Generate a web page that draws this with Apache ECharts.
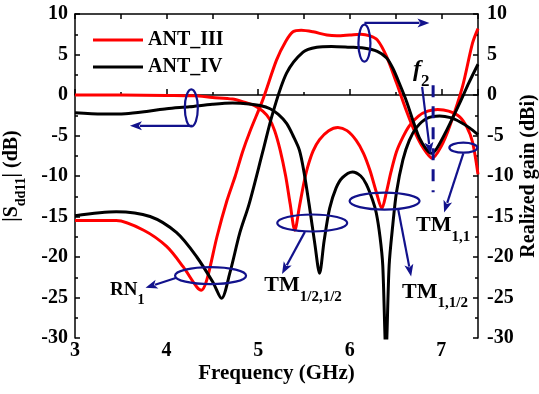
<!DOCTYPE html>
<html>
<head>
<meta charset="utf-8">
<script src="https://cdn.jsdelivr.net/npm/echarts@6/dist/echarts.min.js"></script>
<style>
  html, body { margin: 0; padding: 0; background: #ffffff; }
  #main { width: 539px; height: 394px; }
</style>
</head>
<body>
<div id="main"></div>
<script>
// Frequency axis ticks (GHz) and level axis ticks (dB / dBi)
const freqTicks = [3, 4, 5, 6, 7];
const levelTicks = [-30, -25, -20, -15, -10, -5, 0, 5, 10];

// |Sdd11| of ANT_III (dB)
const s11IIIFreq = [3.0, 3.5, 4.0, 4.3, 4.5, 4.72, 4.85, 4.96, 5.05, 5.12, 5.18, 5.24, 5.3, 5.35, 5.40, 5.45, 5.5, 5.54, 5.6, 5.67, 5.77, 5.87, 5.97, 6.07, 6.15, 6.22, 6.29, 6.35, 6.4, 6.45, 6.51, 6.58, 6.65, 6.75, 6.85, 6.96, 7.08, 7.2, 7.28, 7.34, 7.4];
const s11III = [0, 0, -0.05, -0.1, -0.3, -0.5, -0.9, -1.3, -2.0, -2.9, -4.4, -6.8, -10, -13.5, -16.7, -13.8, -10.8, -8.9, -6.9, -5.5, -4.4, -4.0, -4.4, -5.6, -7.2, -9.3, -12, -14, -12, -9.5, -7, -5.2, -3.8, -2.6, -2.0, -1.8, -2.0, -2.7, -4.0, -5.8, -9.8];

// |Sdd11| of ANT_IV (dB)
const s11IVFreq = [3.0, 3.3, 3.55, 3.8, 4.0, 4.25, 4.5, 4.72, 4.9, 5.02, 5.13, 5.22, 5.31, 5.38, 5.45, 5.5, 5.56, 5.62, 5.67, 5.72, 5.78, 5.85, 5.92, 6.03, 6.12, 6.18, 6.25, 6.29, 6.33, 6.36, 6.395, 6.43, 6.47, 6.51, 6.58, 6.65, 6.73, 6.84, 6.98, 7.1, 7.2, 7.3, 7.4];
const s11IV = [-2.2, -2.35, -2.3, -2.0, -1.7, -1.45, -1.15, -1.0, -1.1, -1.3, -1.7, -2.4, -3.5, -5.0, -6.8, -9.5, -13.8, -18.5, -22, -18, -14, -11.5, -10.2, -9.5, -10, -11, -13, -14.6, -17.5, -21, -32, -21, -16, -12, -8, -5.6, -4, -2.9, -2.6, -2.8, -3.3, -4, -4.9];

// Realized gain of ANT_III (dBi)
const gainIIIFreq = [3.0, 3.45, 3.75, 4.0, 4.18, 4.33, 4.38, 4.44, 4.55, 4.66, 4.75, 4.83, 4.91, 5.05, 5.2, 5.3, 5.38, 5.47, 5.6, 5.75, 5.86, 6.0, 6.12, 6.22, 6.3, 6.4, 6.51, 6.62, 6.72, 6.8, 6.9, 7.0, 7.09, 7.23, 7.34, 7.4];
const gainIII = [-15.5, -15.5, -16.7, -18.7, -21.2, -23.7, -24.1, -22.8, -17.5, -13, -10, -7, -4.5, -0.6, 4.3, 6.6, 7.8, 8.0, 7.8, 7.4, 7.3, 7.4, 7.5, 7.3, 6.8, 4.8, 1.5, -2, -4.8, -6.5, -7.8, -6.3, -3.9, 1.0, 6.4, 8.2];

// Realized gain of ANT_IV (dBi)
const gainIVFreq = [3.0, 3.45, 3.82, 4.11, 4.33, 4.51, 4.6, 4.69, 4.8, 4.9, 5.05, 5.16, 5.31, 5.49, 5.64, 5.8, 6.0, 6.15, 6.3, 6.4, 6.47, 6.55, 6.62, 6.7, 6.76, 6.83, 6.89, 6.95, 7.06, 7.2, 7.3, 7.4];
const gainIV = [-14.9, -14.4, -15, -17, -20, -23.2, -25.1, -22, -17, -13.5, -7, -2.2, 2.7, 5.3, 5.9, 6.0, 5.9, 5.8, 5.4, 4.6, 3.3, 1.2, -0.8, -3.5, -5.3, -6.6, -7.2, -6.6, -4.3, -1, 1.5, 3.8];

const FONT = '"Liberation Serif", "Times New Roman", serif';
const NAVY = '#12128c';
const RED = '#ff0000';
const BLACK = '#000000';

const zip = (xs, ys) => xs.map((x, i) => [x, ys[i]]);

const chart = echarts.init(document.getElementById('main'), null, { renderer: 'canvas' });

const tickLabel = { fontFamily: FONT, fontWeight: 'bold', fontSize: 20, color: '#000' };
const axisLineStyle = { lineStyle: { color: '#000', width: 1.5 } };

function lineSeries(name, xs, ys, color, yIdx, z) {
  return {
    name: name,
    type: 'line',
    xAxisIndex: 0,
    yAxisIndex: yIdx,
    data: zip(xs, ys),
    showSymbol: false,
    symbol: 'none',
    smooth: 0.3,
    clip: true,
    z: z,
    lineStyle: { color: color, width: 3 },
    itemStyle: { color: color }
  };
}

chart.setOption({
  animation: false,
  grid: { left: 75, right: 61, top: 14, bottom: 56, containLabel: false, outerBoundsMode: 'none' },
  legend: {
    orient: 'vertical',
    left: 88,
    top: 25,
    itemWidth: 50,
    itemHeight: 3,
    itemGap: 7,
    icon: 'rect',
    data: ['ANT_III', 'ANT_IV'],
    textStyle: { fontFamily: FONT, fontWeight: 'bold', fontSize: 20, color: '#000', padding: [0, 0, 0, 0] }
  },
  xAxis: [
    {
      type: 'value', position: 'bottom', min: 3, max: 7.4, interval: 1,
      name: 'Frequency (GHz)', nameLocation: 'middle', nameGap: 25, nameMoveOverlap: false,
      nameTextStyle: { fontFamily: FONT, fontWeight: 'bold', fontSize: 21, color: '#000' },
      axisLine: axisLineStyle,
      axisTick: { inside: true, length: 6, lineStyle: { color: '#000', width: 1.5 } },
      axisLabel: Object.assign({ margin: 3, formatter: v => freqTicks.includes(v) ? String(v) : '' }, tickLabel),
      splitLine: { show: false }
    },
    {
      type: 'value', position: 'bottom', min: 3, max: 7.4, interval: 0.5,
      axisLine: { show: false },
      axisTick: { inside: true, length: 3, lineStyle: { color: '#000', width: 1.5 } },
      axisLabel: { show: false },
      splitLine: { show: false }
    },
    {
      type: 'value', position: 'top', min: 3, max: 7.4, interval: 0.5,
      axisLine: axisLineStyle,
      axisTick: { inside: true, length: 5, lineStyle: { color: '#000', width: 1.5 } },
      axisLabel: { show: false },
      splitLine: { show: false }
    }
  ],
  yAxis: [
    {
      type: 'value', position: 'left', min: -30, max: 10, interval: 5,
      name: '{n||S}{s|dd11}{n|| (dB)}', nameLocation: 'middle', nameGap: 47, nameRotate: 90, nameMoveOverlap: false,
      nameTextStyle: {
        rich: {
          n: { fontFamily: FONT, fontWeight: 'bold', fontSize: 20, color: '#000', lineHeight: 26, verticalAlign: 'top' },
          s: { fontFamily: FONT, fontWeight: 'bold', fontSize: 14, color: '#000', lineHeight: 14, verticalAlign: 'bottom' }
        }
      },
      axisLine: axisLineStyle,
      axisTick: { inside: true, length: 5, lineStyle: { color: '#000', width: 1.5 } },
      minorTick: { show: true, splitNumber: 2, length: 3, lineStyle: { color: '#000', width: 1.5 } },
      axisLabel: Object.assign({ margin: 7, formatter: v => levelTicks.includes(v) ? String(v) : '' }, tickLabel),
      splitLine: { show: false },
      minorSplitLine: { show: false }
    },
    {
      type: 'value', position: 'right', min: -30, max: 10, interval: 5,
      name: 'Realized gain (dBi)', nameLocation: 'middle', nameGap: 41, nameRotate: 90, nameMoveOverlap: false,
      nameTextStyle: { fontFamily: FONT, fontWeight: 'bold', fontSize: 20, color: '#000' },
      axisLine: axisLineStyle,
      axisTick: { inside: true, length: 5, lineStyle: { color: '#000', width: 1.5 } },
      minorTick: { show: true, splitNumber: 2, length: 3, lineStyle: { color: '#000', width: 1.5 } },
      axisLabel: Object.assign({ margin: 9, formatter: v => levelTicks.includes(v) ? String(v) : '' }, tickLabel),
      splitLine: { show: false },
      minorSplitLine: { show: false }
    }
  ],
  series: [
    lineSeries('ANT_III', s11IIIFreq, s11III, RED, 0, 2),
    lineSeries('ANT_IV', s11IVFreq, s11IV, BLACK, 0, 3),
    lineSeries('ANT_III', gainIIIFreq, gainIII, RED, 1, 2),
    lineSeries('ANT_IV', gainIVFreq, gainIV, BLACK, 1, 3)
  ]
});

// ---- Annotations, anchored in (GHz, dB) coordinates ----
const px = (f, v) => chart.convertToPixel({ xAxisIndex: 0, yAxisIndex: 0 }, [f, v]);

function arrow(from, to) {
  const p0 = px(from[0], from[1]);
  const p1 = px(to[0], to[1]);
  const dx = p1[0] - p0[0], dy = p1[1] - p0[1];
  const len = Math.hypot(dx, dy);
  const ux = dx / len, uy = dy / len;
  const hl = 12, hw = 4.5;
  const bx = p1[0] - ux * hl, by = p1[1] - uy * hl;
  return [
    { type: 'polyline', silent: true, z: 10, shape: { points: [p0, [bx + ux * 2, by + uy * 2]] }, style: { stroke: NAVY, lineWidth: 2.2, fill: 'none' } },
    { type: 'polygon', silent: true, z: 10, shape: { points: [p1, [bx - uy * hw, by + ux * hw], [bx + ux * 3, by + uy * 3], [bx + uy * hw, by - ux * hw]] }, style: { fill: NAVY } }
  ];
}

function ring(f, v, rx, ry) {
  const c = px(f, v);
  return { type: 'ellipse', silent: true, z: 10, shape: { cx: c[0], cy: c[1], rx: rx, ry: ry }, style: { fill: 'none', stroke: NAVY, lineWidth: 2.2 } };
}

function label(f, v, main, sub, mainSize, subSize, italic) {
  const c = px(f, v);
  return {
    type: 'text', silent: true, z: 11, x: c[0], y: c[1],
    style: {
      text: '{m|' + main + '}{s|' + sub + '}',
      align: 'center', verticalAlign: 'middle',
      rich: {
        m: { fontFamily: FONT, fontWeight: 'bold', fontStyle: italic ? 'italic' : 'normal', fontSize: mainSize, fill: '#000', lineHeight: mainSize + 8, verticalAlign: 'top' },
        s: { fontFamily: FONT, fontWeight: 'bold', fontSize: subSize, fill: '#000', lineHeight: subSize, verticalAlign: 'bottom' }
      }
    }
  };
}

const f2 = 6.91;
const p2top = px(f2, 1.2), p2bot = px(f2, -12);

const graphics = [].concat(
  // |Sdd11| pointer (left axis)
  [ring(4.27, -1.6, 6.5, 18.5)], arrow([4.28, -3.8], [3.6, -3.8]),
  // gain pointer (right axis)
  [ring(6.16, 6.4, 6, 18.5)], arrow([6.16, 8.9], [6.87, 8.9]),
  // RN1
  [ring(4.48, -22.3, 35.5, 8.5)], arrow([4.1, -22.6], [3.77, -23.8]),
  [label(3.57, -24.6, 'RN', '1', 19, 14, false)],
  // TM 1/2,1/2
  [ring(5.59, -15.8, 35, 8.5)], arrow([5.51, -16.9], [5.26, -22.1]),
  [label(5.49, -24.0, 'TM', '1/2,1/2', 22, 15, false)],
  // TM 1,1/2
  [ring(6.38, -13.1, 35, 8.5)], arrow([6.53, -14.2], [6.67, -22.4]),
  [label(6.93, -24.8, 'TM', '1,1/2', 22, 15, false)],
  // TM 1,1
  [ring(7.24, -6.5, 14, 5)], arrow([7.24, -7.2], [7.03, -14.5]),
  [label(7.02, -16.6, 'TM', '1,1', 22, 15, false)],
  // f2 marker
  [label(6.78, 2.6, 'f', '2', 24, 17, true)],
  arrow([6.79, 1.0], [6.88, -7.3]),
  [{ type: 'line', silent: true, z: 10, shape: { x1: p2top[0], y1: p2top[1], x2: p2bot[0], y2: p2bot[1] }, style: { stroke: NAVY, lineWidth: 3, lineDash: [12, 9] } }]
);

chart.setOption({ graphic: graphics });
</script>
</body>
</html>
